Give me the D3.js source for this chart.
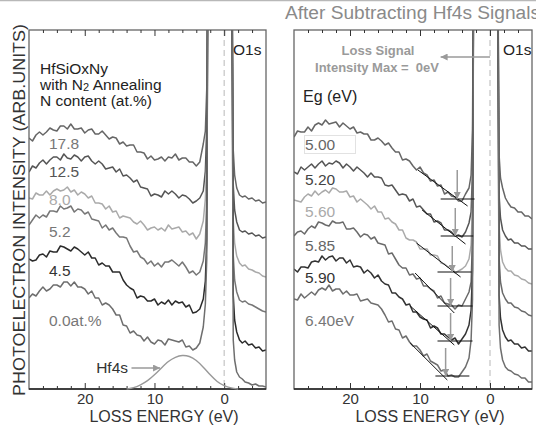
<!DOCTYPE html>
<html>
<head>
<meta charset="utf-8">
<script src="https://cdn.jsdelivr.net/npm/d3@7"></script>
<style>
  html, body { margin: 0; padding: 0; background: #fff; }
  svg { display: block; font-family: "Liberation Sans", Arial, Helvetica, sans-serif; }
</style>
</head>
<body>
<div id="chart"></div>
<script>
// loss energy grid (eV), shared by every spectrum
const energy = [28, 27.5, 27, 26.5, 26, 25.5, 25, 24.5, 24, 23.5, 23, 22.5, 22, 21.5, 21, 20.5, 20, 19.5, 19, 18.5,
  18, 17.5, 17, 16.5, 16, 15.5, 15, 14.5, 14, 13.5, 13, 12.5, 12, 11.5, 11, 10.5, 10, 9.5, 9, 8.5,
  8, 7.5, 7, 6.5, 6, 5.5, 5, 4.5, 4, 3.5, 3, 2.7, 2.5, 2.3, 2, 1, 0, -0.8, -1.1,
  -1.3, -1.5, -1.8, -2.2, -2.6, -3, -3.5, -4, -4.5, -5, -5.5, -6];

// left panel: as measured, N content (at.%)
const nContent = ["17.8", "12.5", "8.0", "5.2", "4.5", "0.0at.%"];
const n178 = [251, 248, 254, 257, 254, 257, 261, 259, 258, 263, 263, 260, 265, 260, 260, 261, 256, 259, 260, 255,
  255, 258, 254, 250, 252, 251, 245, 247, 243, 244, 244, 237, 237, 236, 230, 233, 229, 230, 232, 228,
  232, 231, 235, 229, 231, 231, 227, 227, 223, 227, 245, 258, 300, 500, 900, 1500, 1500, 900, 450,
  239, 214, 201, 194, 192, 193, 190, 191, 188, 189, 186, 187];
const n125 = [217, 223, 221, 226, 229, 225, 229, 232, 232, 229, 235, 231, 230, 234, 232, 228, 232, 233, 228, 225,
  228, 225, 220, 221, 222, 217, 220, 213, 214, 211, 207, 209, 202, 201, 200, 193, 195, 194, 192, 198,
  195, 198, 195, 191, 194, 193, 190, 186, 188, 191, 198, 218, 262, 500, 900, 1500, 1500, 900, 450,
  204, 179, 167, 159, 157, 158, 155, 156, 153, 154, 151, 152];
const n80 = [191, 190, 196, 194, 194, 198, 194, 198, 200, 198, 199, 202, 197, 199, 194, 197, 195, 191, 193, 186,
  186, 185, 180, 183, 177, 178, 171, 173, 172, 171, 167, 165, 168, 164, 159, 161, 162, 159, 161, 158,
  164, 160, 161, 162, 157, 158, 154, 156, 150, 155, 168, 190, 228, 500, 900, 1500, 1500, 900, 450,
  169, 146, 133, 126, 123, 124, 120, 119, 117, 116, 113, 112];
const n52 = [164, 169, 174, 171, 174, 172, 178, 178, 177, 183, 180, 181, 183, 177, 180, 179, 175, 177, 170, 169,
  168, 161, 164, 159, 161, 156, 152, 152, 151, 143, 137, 138, 132, 130, 125, 128, 123, 126, 122, 127,
  127, 129, 126, 123, 127, 122, 116, 118, 114, 117, 128, 146, 190, 500, 900, 1500, 1500, 900, 450,
  134, 109, 97, 89, 87, 88, 85, 84, 82, 80, 78, 77];
const n45 = [130, 128, 129, 134, 135, 132, 138, 137, 137, 143, 142, 140, 138, 142, 140, 137, 134, 137, 131, 131,
  124, 126, 123, 123, 117, 117, 117, 109, 104, 101, 99, 91, 93, 92, 88, 88, 90, 84, 87, 85,
  89, 84, 88, 86, 87, 82, 84, 76, 77, 80, 90, 108, 150, 500, 900, 1500, 1500, 900, 450,
  94, 69, 57, 49, 46, 48, 44, 45, 41, 42, 38, 39];
const n00 = [91, 95, 93, 98, 102, 98, 100, 104, 104, 102, 107, 107, 103, 107, 102, 102, 100, 95, 98, 91,
  91, 84, 86, 84, 80, 74, 74, 64, 63, 56, 58, 54, 53, 48, 52, 47, 45, 49, 48, 44,
  50, 49, 48, 47, 49, 42, 43, 39, 41, 46, 62, 85, 130, 500, 900, 1500, 1500, 900, 450,
  49, 29, 17, 12, 10, 7, 6, 4, 5, 3, 3, 2];

// Hf4s component
const hfEnergy = [14, 13, 12, 11, 10, 9, 8, 7, 6, 5, 4, 3, 2, 1, 0, -1, -2];
const hfSignal = [0, 1, 4, 8, 14, 21, 28, 32, 34, 33, 29, 22, 14, 7, 3, 1, 0];

// right panel: after subtracting Hf4s, band gap Eg (eV)
const egValues = ["5.00", "5.20", "5.60", "5.85", "5.90", "6.40eV"];
const eg500 = [252, 258, 257, 257, 262, 258, 264, 266, 264, 269, 265, 266, 267, 262, 266, 263, 260, 262, 256, 257,
  255, 255, 249, 249, 251, 248, 244, 246, 241, 237, 237, 229, 230, 228, 223, 219, 222, 216, 214, 208,
  209, 203, 204, 195, 197, 193, 192, 188, 188, 195, 201, 214, 259, 500, 900, 1500, 1500, 900, 450,
  234, 211, 201, 191, 186, 182, 181, 177, 177, 173, 173, 170];
const eg520 = [217, 215, 222, 219, 222, 225, 221, 225, 228, 223, 226, 225, 228, 226, 221, 225, 222, 218, 222, 219,
  216, 212, 216, 212, 212, 211, 204, 203, 204, 199, 194, 195, 194, 188, 190, 182, 183, 179, 175, 175,
  167, 168, 166, 159, 159, 157, 153, 154, 152, 157, 166, 177, 219, 500, 900, 1500, 1500, 900, 450,
  194, 171, 159, 153, 149, 150, 146, 146, 143, 143, 140, 140];
const eg560 = [189, 188, 187, 192, 195, 193, 198, 194, 197, 199, 196, 201, 200, 197, 197, 198, 192, 193, 187, 190,
  187, 184, 180, 183, 177, 177, 170, 171, 167, 165, 159, 159, 151, 149, 149, 147, 140, 140, 140, 134,
  134, 133, 126, 125, 122, 123, 116, 118, 120, 123, 130, 144, 184, 500, 900, 1500, 1500, 900, 450,
  164, 139, 127, 121, 118, 118, 114, 113, 110, 109, 106, 105];
const eg585 = [153, 157, 158, 155, 160, 163, 161, 167, 166, 164, 163, 168, 166, 166, 167, 160, 160, 161, 157, 152,
  155, 154, 150, 152, 146, 145, 144, 135, 136, 130, 124, 121, 121, 114, 115, 110, 111, 103, 103, 100,
  98, 91, 93, 86, 85, 84, 80, 84, 83, 90, 97, 107, 149, 500, 900, 1500, 1500, 900, 450,
  131, 107, 96, 90, 86, 86, 82, 81, 78, 77, 74, 73];
const eg590 = [120, 117, 122, 122, 121, 127, 128, 127, 133, 129, 132, 133, 128, 131, 131, 126, 129, 122, 123, 122,
  116, 119, 116, 111, 114, 108, 105, 104, 96, 96, 92, 90, 84, 85, 77, 77, 72, 70, 69, 61,
  63, 61, 55, 55, 52, 49, 51, 45, 50, 55, 64, 79, 119, 500, 900, 1500, 1500, 900, 450,
  94, 71, 59, 52, 48, 49, 45, 45, 41, 42, 38, 38];
const eg640 = [90, 89, 95, 91, 94, 97, 94, 99, 101, 99, 104, 98, 100, 100, 95, 98, 94, 94, 95, 88,
  89, 90, 86, 85, 84, 80, 74, 67, 68, 60, 59, 51, 53, 47, 43, 43, 39, 33, 35, 28,
  26, 24, 18, 19, 13, 14, 12, 12, 17, 22, 31, 49, 89, 500, 900, 1500, 1500, 900, 450,
  64, 41, 29, 22, 19, 18, 15, 14, 11, 11, 7, 7];

// onset construction: linear fit of the leading edge, background level and onset arrow
const fitStartE = [10.3, 9.7, 10.5, 10.7, 11.4, 11.4];
const fitStartI = [219, 179, 146, 116, 83, 46];
const fitEndE = [3.2, 3.5, 4.2, 5.1, 5.1, 6.1];
const fitEndI = [183, 145, 112, 76, 44, 9];
const baseI = [190, 153, 117, 83, 48, 13];
const baseFromE = [7.05, 7.05, 7.5, 7.5, 7.5, 7.8];
const baseToE = [2.2, 2.4, 2.65, 2.5, 2.5, 2.95];
const onsetE = [4.68, 4.96, 5.39, 5.63, 5.63, 6.34];
const onsetTopI = [219, 181, 143, 111, 76, 41];

const majorTicks = [20, 10, 0];
const minorTicks = [26, 24, 22, 18, 16, 14, 12, 8, 6, 4, 2, -2, -4];

const leftSeries = [n178, n125, n80, n52, n45, n00];
const rightSeries = [eg500, eg520, eg560, eg585, eg590, eg640];
const leftColors = ["#666", "#555", "#aaa", "#777", "#2b2b2b", "#6e6e6e"];
const rightColors = ["#666", "#555", "#aaa", "#6a6a6a", "#333", "#6e6e6e"];
const leftLabelColors = ["#777", "#555", "#aaa", "#777", "#333", "#777"];
const rightLabelColors = ["#666", "#444", "#aaa", "#666", "#333", "#777"];
const leftLabelY = [149, 177, 205, 237, 276, 326];
const rightLabelY = [150, 185, 217, 251, 283, 326];

(function () {
  const width = 536, height = 426;
  const top = 30, bottom = 389;

  const svg = d3.select("#chart")
    .append("svg")
    .attr("width", width)
    .attr("height", height)
    .attr("viewBox", `0 0 ${width} ${height}`);

  const y = d3.scaleLinear().domain([0, 359]).range([bottom, top]);

  const panels = [
    { id: "lp", x: d3.scaleLinear().domain([28, -6]).range([29, 266]), series: leftSeries, colors: leftColors },
    { id: "rp", x: d3.scaleLinear().domain([28, -6]).range([294, 532]), series: rightSeries, colors: rightColors }
  ];

  const defs = svg.append("defs");
  defs.append("marker")
    .attr("id", "head")
    .attr("viewBox", "0 0 10 10")
    .attr("refX", 10).attr("refY", 5)
    .attr("markerWidth", 9).attr("markerHeight", 7)
    .attr("markerUnits", "userSpaceOnUse")
    .attr("orient", "auto")
    .append("path")
    .attr("d", "M0,0 L10,5 L0,10 Z")
    .attr("fill", "#9a9a9a");

  // thin rule along the top edge
  svg.append("line")
    .attr("x1", 0).attr("x2", width).attr("y1", 0.5).attr("y2", 0.5)
    .attr("stroke", "#b8b8b8").attr("stroke-width", 1.5);

  panels.forEach(p => {
    const [x0, x1] = p.x.range();
    defs.append("clipPath").attr("id", `clip-${p.id}`)
      .append("rect").attr("x", x0).attr("y", top).attr("width", x1 - x0).attr("height", bottom - top);

    const g = svg.append("g");

    // zero loss energy
    g.append("line")
      .attr("x1", p.x(0)).attr("x2", p.x(0)).attr("y1", top).attr("y2", bottom)
      .attr("stroke", "#c4c4c4").attr("stroke-width", 1.2).attr("stroke-dasharray", "6,4");

    const line = d3.line()
      .x((d, i) => p.x(energy[i]))
      .y(d => y(d));

    g.append("g")
      .attr("clip-path", `url(#clip-${p.id})`)
      .selectAll("path")
      .data(p.series)
      .join("path")
      .attr("d", line)
      .attr("fill", "none")
      .attr("stroke", (d, i) => p.colors[i])
      .attr("stroke-width", 1.5)
      .attr("stroke-linejoin", "round");

    // frame
    g.append("rect")
      .attr("x", x0).attr("y", top).attr("width", x1 - x0).attr("height", bottom - top)
      .attr("fill", "none").attr("stroke", "#666").attr("stroke-width", 1.3);
    g.append("line")
      .attr("x1", x0).attr("x2", x1).attr("y1", bottom).attr("y2", bottom)
      .attr("stroke", "#222").attr("stroke-width", 1.5);

    const axisStyle = sel => {
      sel.select(".domain").remove();
      sel.selectAll("line").attr("stroke", "#333").attr("stroke-width", 1);
    };

    svg.append("g").attr("transform", `translate(0,${bottom})`)
      .call(d3.axisBottom(p.x).tickValues(majorTicks).tickSize(-6).tickPadding(4).tickSizeOuter(0))
      .call(axisStyle)
      .call(s => s.selectAll("text")
        .attr("font-size", 15).attr("fill", "#333")
        .attr("font-family", '"Liberation Sans", Arial, sans-serif'));
    svg.append("g").attr("transform", `translate(0,${bottom})`)
      .call(d3.axisBottom(p.x).tickValues(minorTicks).tickSize(-3).tickFormat("").tickSizeOuter(0))
      .call(axisStyle);
    svg.append("g").attr("transform", `translate(0,${top})`)
      .call(d3.axisTop(p.x).tickValues(majorTicks).tickSize(-6).tickFormat("").tickSizeOuter(0))
      .call(axisStyle);
    svg.append("g").attr("transform", `translate(0,${top})`)
      .call(d3.axisTop(p.x).tickValues(minorTicks).tickSize(-3).tickFormat("").tickSizeOuter(0))
      .call(axisStyle);
  });

  const xL = panels[0].x, xR = panels[1].x;

  // Hf4s component in the left panel
  svg.append("path")
    .datum(hfSignal)
    .attr("d", d3.line().x((d, i) => xL(hfEnergy[i])).y(d => y(d)).curve(d3.curveBasis))
    .attr("fill", "none").attr("stroke", "#999").attr("stroke-width", 1.4);
  svg.append("line")
    .attr("x1", xL(13.3)).attr("x2", xL(9.2)).attr("y1", y(21)).attr("y2", y(21))
    .attr("stroke", "#9a9a9a").attr("stroke-width", 1.5).attr("marker-end", "url(#head)");
  svg.append("text")
    .attr("x", 128).attr("y", 373).attr("text-anchor", "end")
    .attr("font-size", 15.5).attr("fill", "#333").text("Hf4s");

  // onset construction in the right panel
  const onset = svg.append("g");
  onset.selectAll(".fit")
    .data(fitStartE)
    .join("line")
    .attr("x1", d => xR(d)).attr("y1", (d, i) => y(fitStartI[i]))
    .attr("x2", (d, i) => xR(fitEndE[i])).attr("y2", (d, i) => y(fitEndI[i]))
    .attr("stroke", "#111").attr("stroke-width", 1);
  onset.selectAll(".base")
    .data(baseI)
    .join("line")
    .attr("x1", (d, i) => xR(baseFromE[i])).attr("x2", (d, i) => xR(baseToE[i]))
    .attr("y1", d => y(d)).attr("y2", d => y(d))
    .attr("stroke", "#111").attr("stroke-width", 1.2);
  onset.selectAll(".arrow")
    .data(onsetE)
    .join("line")
    .attr("x1", d => xR(d)).attr("x2", d => xR(d))
    .attr("y1", (d, i) => y(onsetTopI[i])).attr("y2", (d, i) => y(baseI[i]))
    .attr("stroke", "#9a9a9a").attr("stroke-width", 1.5).attr("marker-end", "url(#head)");

  // loss signal maximum marker
  svg.append("line")
    .attr("x1", xR(0)).attr("x2", xR(7.05)).attr("y1", y(332)).attr("y2", y(332))
    .attr("stroke", "#9a9a9a").attr("stroke-width", 1.5).attr("marker-end", "url(#head)");
  svg.append("text").attr("x", 378).attr("y", 55).attr("text-anchor", "middle")
    .attr("font-size", 13).attr("font-weight", "bold").attr("fill", "#9a9a9a").text("Loss Signal");
  svg.append("text").attr("x", 377).attr("y", 72).attr("text-anchor", "middle")
    .attr("font-size", 13).attr("font-weight", "bold").attr("fill", "#9a9a9a")
    .attr("xml:space", "preserve").text("Intensity Max =  0eV");

  // series labels
  svg.append("g").selectAll("text")
    .data(nContent)
    .join("text")
    .attr("x", 49).attr("y", (d, i) => leftLabelY[i])
    .attr("font-size", 15.5).attr("fill", (d, i) => leftLabelColors[i])
    .text(d => d);
  svg.append("rect")
    .attr("x", 304.5).attr("y", 135.5).attr("width", 51).attr("height", 18)
    .attr("fill", "none").attr("stroke", "#e2e2e2").attr("stroke-width", 1);
  svg.append("g").selectAll("text")
    .data(egValues)
    .join("text")
    .attr("x", 305).attr("y", (d, i) => rightLabelY[i])
    .attr("font-size", 15.5).attr("fill", (d, i) => rightLabelColors[i])
    .text(d => d);

  // headings and annotations
  const info = svg.append("text").attr("x", 40).attr("font-size", 15.5).attr("fill", "#222");
  info.append("tspan").attr("x", 40).attr("y", 74).text("HfSiOxNy");
  const l2 = info.append("tspan").attr("x", 40).attr("y", 90).text("with N");
  l2.append("tspan").attr("font-size", 11).attr("dy", 1).text("2");
  l2.append("tspan").attr("dy", -1).text(" Annealing");
  info.append("tspan").attr("x", 40).attr("y", 106).text("N content (at.%)");

  svg.append("text").attr("x", 303).attr("y", 102)
    .attr("font-size", 16).attr("fill", "#222").text("Eg (eV)");

  svg.append("text").attr("x", 233).attr("y", 55).attr("font-size", 15.5).attr("fill", "#222").text("O1s");
  svg.append("text").attr("x", 503).attr("y", 55).attr("font-size", 15.5).attr("fill", "#222").text("O1s");

  svg.append("text").attr("x", 285).attr("y", 19)
    .attr("font-size", 18).attr("fill", "#8a8a8a")
    .attr("textLength", 255).attr("lengthAdjust", "spacingAndGlyphs")
    .text("After Subtracting Hf4s Signals");

  svg.append("text").attr("x", 164).attr("y", 422).attr("text-anchor", "middle")
    .attr("font-size", 16).attr("fill", "#333").text("LOSS ENERGY (eV)");
  svg.append("text").attr("x", 430).attr("y", 422).attr("text-anchor", "middle")
    .attr("font-size", 16).attr("fill", "#333").text("LOSS ENERGY (eV)");

  svg.append("text")
    .attr("transform", "translate(24.5,210) rotate(-90)")
    .attr("text-anchor", "middle")
    .attr("font-size", 17).attr("fill", "#333")
    .attr("textLength", 372).attr("lengthAdjust", "spacingAndGlyphs")
    .text("PHOTOELECTRON INTENSITY (ARB.UNITS)");
})();
</script>
</body>
</html>
